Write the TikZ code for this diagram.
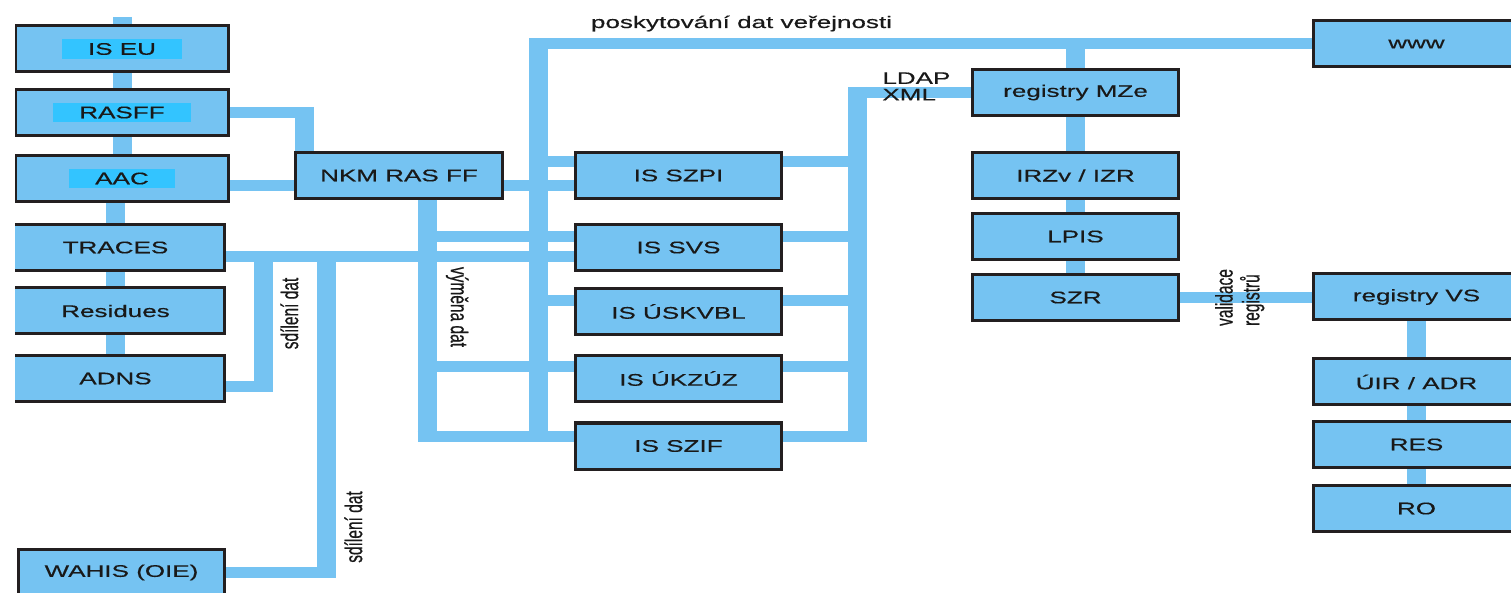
\documentclass[tikz,border=0pt]{standalone}
\usepackage{fontspec}
\usepackage{graphicx}
\setmainfont{Liberation Sans}[FakeStretch=1.55,FakeBold=0.4]
\newfontfamily\rotfont{Liberation Sans}[FakeBold=0.6]

\definecolor{linkblue}{HTML}{75C3F2}
\definecolor{hlcyan}{HTML}{33C4FF}
\definecolor{rimgray}{HTML}{231F20}

\newcommand{\hlpatch}[2][11pt]{\setlength{\fboxsep}{2pt}\colorbox{hlcyan}{\hspace{#1}#2\hspace{#1}}}
\newcommand{\tallstack}[1]{\scalebox{1}[1.55]{\begin{tabular}{@{}l@{}}#1\end{tabular}}}

\tikzset{
  sysbox/.style={draw=rimgray, line width=1.5pt, fill=linkblue, minimum width=103pt,
    minimum height=23pt, inner sep=0pt, text=black!90, font=\fontsize{8.4}{10}\selectfont},
  hlink/.style={draw=linkblue, line width=5.5pt},
  vlink/.style={draw=linkblue, line width=9.5pt},
  note/.style={inner sep=0pt, text=black!90, font=\fontsize{8.4}{8.2}\selectfont},
  sidenote/.style={inner sep=0pt, text=black!90, font=\rotfont\fontsize{7.75}{8}\selectfont},
}

\begin{document}
\begin{tikzpicture}[x=0.5pt,y=-0.5pt]
  \useasboundingbox (0,0) rectangle (1511,593);
  \clip (15,0) rectangle (1511,600);

  %levy sloupec
  \node[sysbox, minimum width=106.5pt] (iseu) at (122,49) {\hlpatch{IS EU}};
  \node[sysbox, minimum width=106.5pt] (rasff) at (122,112.5) {\hlpatch{RASFF}};
  \node[sysbox, minimum width=106.5pt] (aac) at (122,178.5) {\hlpatch{AAC}};
  \node[sysbox, minimum width=109pt] (traces) at (115.5,247.5) {TRACES};
  \node[sysbox, minimum width=109pt] (residues) at (115.5,311) {Residues};
  \node[sysbox, minimum width=109pt] (adns) at (115.5,378.5) {ADNS};
  \node[sysbox] (wahis) at (121.5,572.5) {WAHIS (OIE)};

  %stred
  \node[sysbox, minimum width=103.5pt] (nkm) at (399,175.5) {NKM RAS FF};
  \node[sysbox] (szpi) at (678.5,175.5) {IS SZPI};
  \node[sysbox] (svs) at (678.5,247.5) {IS SVS};
  \node[sysbox] (uskvbl) at (678.5,311.5) {IS ÚSKVBL};
  \node[sysbox] (ukzuz) at (678.5,378.5) {IS ÚKZÚZ};
  \node[sysbox] (szif) at (678.5,446) {IS SZIF};

  %registry
  \node[sysbox] (mze) at (1075.5,92.5) {registry MZe};
  \node[sysbox] (irzv) at (1075.5,175.5) {IRZv / IZR};
  \node[sysbox] (lpis) at (1075.5,236.5) {LPIS};
  \node[sysbox] (szr) at (1075.5,297.5) {SZR};

  \node[sysbox] (www) at (1416.5,44) {www};
  \node[sysbox] (regvs) at (1416.5,297) {registry VS};
  \node[sysbox] (uir) at (1416.5,382) {ÚIR / ADR};
  \node[sysbox] (res) at (1416.5,444.5) {RES};
  \node[sysbox] (ro) at (1416.5,508.5) {RO};

  %uzly vedeni
  \coordinate (euTop) at (122,17);
  \coordinate (rasKnee) at (304.5,112.5);
  \coordinate (nkmRow) at (0,185.5);
  \coordinate (shareA) at (263,257);
  \coordinate (shareB) at (326.5,257);
  \coordinate (adnsKnee) at (263,387);
  \coordinate (wahisKnee) at (326.5,572.5);
  \coordinate (nkmBus) at (427,436);
  \coordinate (pubTop) at (538.5,44);
  \coordinate (pubBot) at (538.5,436);
  \coordinate (ldapTop) at (857.5,92.5);
  \coordinate (ldapBot) at (857.5,436);
  \coordinate (rowA) at (0,162);
  \coordinate (rowB) at (0,237);
  \coordinate (rowC) at (0,300.5);
  \coordinate (rowD) at (0,366.5);

  %levy sloupec
  \draw[vlink] (euTop) -- (iseu);
  \draw[vlink] (iseu) -- (rasff);
  \draw[vlink] (rasff) -- (aac);
  \draw[vlink] (traces.north) -- (traces.north |- aac.south);
  \draw[vlink] (traces) -- (residues);
  \draw[vlink] (residues) -- (adns);

  %do NKM RAS FF
  \draw[hlink, shorten >=-4.75pt] (rasff) -- (rasKnee);
  \draw[vlink, shorten <=-2.75pt] (rasKnee) -- (rasKnee |- nkm.north);
  \draw[hlink] (aac.east |- nkmRow) -- (nkm.west |- nkmRow);
  \draw[hlink] (nkm.east |- nkmRow) -- (szpi.west |- nkmRow);

  %sdileni dat
  \draw[hlink] (traces.east |- shareA) -- (svs.west |- shareA);
  \draw[vlink, shorten >=-2.75pt] (shareA) -- (adnsKnee);
  \draw[hlink, shorten >=-4.75pt] (adns.east |- adnsKnee) -- (adnsKnee);
  \draw[vlink, shorten >=-2.75pt] (shareB) -- (wahisKnee);
  \draw[hlink, shorten >=-4.75pt] (wahis) -- (wahisKnee);

  %vymena dat
  \draw[vlink, shorten >=-2.75pt] (nkmBus |- nkm.south) -- (nkmBus);
  \draw[hlink, shorten <=-4.75pt] (nkmBus) -- (szif.west |- nkmBus);
  \draw[hlink] (nkmBus |- rowB) -- (svs.west |- rowB);
  \draw[hlink] (nkmBus |- rowD) -- (ukzuz.west |- rowD);

  %poskytovani dat verejnosti
  \draw[vlink, shorten <=-2.75pt] (pubTop) -- (pubBot);
  \draw[hlink, shorten <=-4.75pt] (pubTop) -- (www);
  \draw[hlink] (pubTop |- rowA) -- (szpi.west |- rowA);
  \draw[hlink] (pubTop |- rowC) -- (uskvbl.west |- rowC);
  \draw[vlink] (mze.north |- pubTop) -- (mze);
  \draw[vlink] (mze) -- (irzv);
  \draw[vlink] (irzv) -- (lpis);
  \draw[vlink] (lpis) -- (szr);

  %LDAP / XML
  \draw[vlink, shorten <=-2.75pt, shorten >=-2.75pt] (ldapTop) -- (ldapBot);
  \draw[hlink, shorten <=-4.75pt] (ldapTop) -- (mze);
  \foreach \sys/\row in {szpi/rowA, svs/rowB, uskvbl/rowC, ukzuz/rowD}
    \draw[hlink] (\sys.east |- \row) -- (ldapTop |- \row);
  \draw[hlink, shorten >=-4.75pt] (szif.east |- ldapBot) -- (ldapBot);

  %validace
  \draw[hlink] (szr.east) -- (szr.east -| regvs.west);
  \draw[vlink] (regvs) -- (uir);
  \draw[vlink] (uir) -- (res);
  \draw[vlink] (res) -- (ro);

  %popisky
  \node[note, anchor=base] (pubnote) at (741.5,28) {poskytování dat veřejnosti};
  \node[note, anchor=north west, align=left] (ldapnote) at (882,72) {LDAP\\XML};
  \node[sidenote, rotate=90] (share1note) at (293,313.5) {\tallstack{sdílení dat}};
  \node[sidenote, rotate=90] (share2note) at (357,527) {\tallstack{sdílení dat}};
  \node[sidenote, rotate=-90] (vymenanote) at (456,307) {\tallstack{výměna dat}};
  \node[sidenote, rotate=90] (valnote) at (1241,297.5) {\tallstack{validace\\registrů}};
\end{tikzpicture}
\end{document}
